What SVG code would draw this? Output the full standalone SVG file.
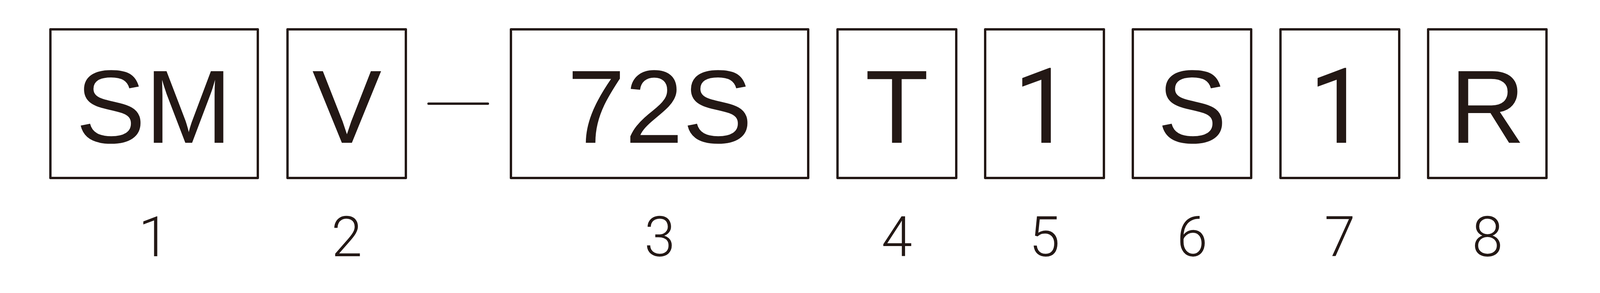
<svg xmlns="http://www.w3.org/2000/svg" width="7761" height="749" viewBox="0 0 7761 749">
<style>
.box{fill:none;stroke:#231815;stroke-width:6;stroke-linejoin:round}
.code{font-family:"Liberation Sans",Arial,sans-serif;font-size:266px;fill:#231815;text-anchor:middle}
.one{font-family:Roboto,"Noto Sans",sans-serif;font-size:268px}
.num{font-family:Roboto,"Liberation Sans",sans-serif;font-weight:300;font-size:142px;fill:#231815;text-anchor:middle}
.dash{stroke:#231815;stroke-width:6;stroke-linecap:round}
</style>
<rect width="7761" height="749" fill="#fff"/>
<g id="n1"><rect class="box" x="129" y="75" width="531" height="380"/><text class="code" x="394" y="365">SM</text><text class="num" x="394" y="655">1</text></g>
<g id="n2"><rect class="box" x="736" y="75" width="303" height="380"/><text class="code" x="888" y="365">V</text><text class="num" x="888" y="655">2</text></g>
<g id="n3"><rect class="box" x="1308" y="75" width="761" height="380"/><text class="code" x="1689" y="365">72S</text><text class="num" x="1689" y="655">3</text></g>
<g id="n4"><rect class="box" x="2144" y="75" width="304" height="380"/><text class="code" x="2296" y="365">T</text><text class="num" x="2296" y="655">4</text></g>
<g id="n5"><rect class="box" x="2522" y="75" width="304" height="380"/><text class="code one" x="2670" y="365">1</text><text class="num" x="2674" y="655">5</text></g>
<g id="n6"><rect class="box" x="2900" y="75" width="303" height="380"/><text class="code" x="3052" y="365">S</text><text class="num" x="3052" y="655">6</text></g>
<g id="n7"><rect class="box" x="3278" y="75" width="304" height="380"/><text class="code one" x="3426" y="365">1</text><text class="num" x="3430" y="655">7</text></g>
<g id="n8"><rect class="box" x="3656" y="75" width="303" height="380"/><text class="code" x="3808" y="365">R</text><text class="num" x="3808" y="655">8</text></g>
<g id="connectors"><line class="dash" x1="1097" y1="265" x2="1249" y2="265"/></g>
</svg>
